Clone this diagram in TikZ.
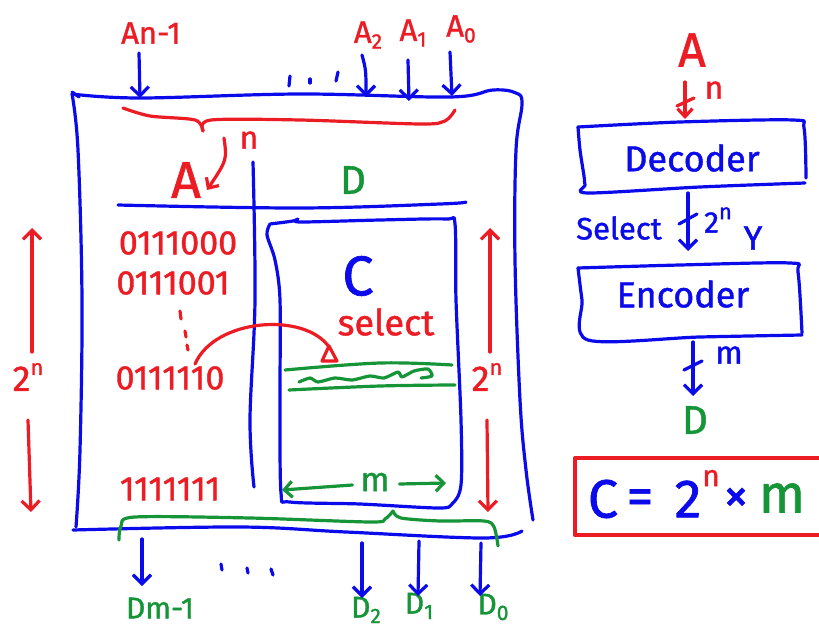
\documentclass[tikz,border=0pt]{standalone}
\usepackage{fontspec}
\setmainfont{Fira Sans}[FakeBold=1.2]
\usetikzlibrary{arrows.meta,decorations.pathmorphing}
\definecolor{penblue}{RGB}{10,10,235}
\definecolor{penred}{RGB}{236,28,36}
\definecolor{pengreen}{RGB}{22,148,56}
\newcommand\lowix[1]{\raisebox{-0.35ex}{\fontsize{21}{21}\selectfont #1}}
\newcommand\upix[1]{\raisebox{0.85ex}{\fontsize{22}{22}\selectfont #1}}
\begin{document}
\begin{tikzpicture}[x=1pt,y=-1pt,line cap=round,line join=round,
  pen/.style={line width=3.2pt},
  bpen/.style={pen,draw=penblue},
  rpen/.style={pen,draw=penred},
  gpen/.style={pen,draw=pengreen},
  barb/.style={-{Straight Barb[length=9pt,width=18pt]}},
  txt/.style={inner sep=0pt,outer sep=0pt},
  fs/.style={font=\fontsize{#1}{#1}\selectfont}]
\useasboundingbox (0,0) rectangle (819,631);

% ---------- labels ----------
\node[txt,fs=31,text=penred] (lAn) at (151,33) {An-1};
\node[txt,fs=31,text=penred] (lA2) at (368,35) {A\lowix{2}};
\node[txt,fs=31,text=penred] (lA1) at (413,33) {A\lowix{1}};
\node[txt,fs=31,text=penred] (lA0) at (461,29) {A\lowix{0}};
\node[txt,fs=32,text=penred] (ln) at (249,140) {n};
\node[txt,fs=52,text=penred] (lA) at (186,180) {A};
\node[txt,fs=40,text=pengreen] (lD) at (353,180) {D};
\node[txt,fs=34,text=penred] (b0) at (178,243) {0111000};
\node[txt,fs=34,text=penred] (b1) at (173,283) {0111001};
\node[txt,fs=34,text=penred] (b2) at (170,378) {0111110};
\node[txt,fs=34,text=penred] (b3) at (170,489) {1111111};
\node[txt,fs=56,text=penblue] (lC) at (358,276) {C};
\node[txt,fs=36,text=penred] (lsel) at (386,322) {select};
\node[txt,fs=36,text=penred] (l2nL) at (28,377) {2\upix{n}};
\node[txt,fs=36,text=penred] (l2nR) at (487,377) {2\upix{n}};
\node[txt,fs=34,text=pengreen] (lm) at (375,482) {m};
\node[txt,fs=30,text=pengreen] (lDm) at (160,608) {Dm-1};
\node[txt,fs=30,text=pengreen] (lD2) at (366,610) {D\lowix{2}};
\node[txt,fs=30,text=pengreen] (lD1) at (419,606) {D\lowix{1}};
\node[txt,fs=30,text=pengreen] (lD0) at (493,607) {D\lowix{0}};

% ---------- outer box ----------
\draw[bpen] (72,92) -- (79,97);
\draw[bpen] plot[smooth,tension=0.6] coordinates {(72,94) (140,98) (300,94) (450,97) (493,90) (516,93) (522,104) (516,150) (515,260) (520,400) (526,470) (533,520)};
\draw[bpen] plot[smooth,tension=0.6] coordinates {(72,94) (78,150) (82,300) (80,450) (76,527)};
\draw[bpen] plot[smooth,tension=0.6] coordinates {(73,530) (240,527) (346,532) (484,538) (522,531)};

% top inputs
\coordinate (sAn) at (139,53); \coordinate (tAn) at (140,98);
\coordinate (sA2) at (362,55); \coordinate (tA2) at (366,97);
\coordinate (sA1) at (408,60); \coordinate (tA1) at (409,101);
\coordinate (sA0) at (450,52); \coordinate (tA0) at (452,96);
\draw[bpen,barb] (sAn) -- (tAn);
\draw[bpen,barb] (sA2) .. controls (366,70) .. (tA2);
\draw[bpen,barb] (sA1) -- (tA1);
\draw[bpen,barb] (sA0) -- (tA0);
\draw[bpen] (290,76) -- (289,86);
\draw[bpen] (310,79) -- (310,83);
\draw[bpen] (338,72) -- (336,81);

% red brace and n arrow
\draw[rpen] plot[smooth,tension=0.5] coordinates {(123,108) (150,116) (195,120) (203,131)};
\draw[rpen] plot[smooth,tension=0.5] coordinates {(203,131) (211,120) (300,120) (420,124) (445,121) (455,110)};
\coordinate (nS) at (224,138); \coordinate (nT) at (207,190);
\draw[rpen,-{Straight Barb[length=8pt,width=15pt]}] (nS) .. controls (227,160) .. (nT);

% inner lines
\draw[bpen] plot[smooth,tension=0.6] coordinates {(253,162) (255,300) (250,420) (254,487)};
\draw[bpen] plot[smooth,tension=0.6] coordinates {(118,205) (300,208) (440,204) (466,202)};

% inner C box
\draw[bpen] plot[smooth,tension=0.5] coordinates {(270,224) (293,221) (298,219) (300,222) (380,220) (446,219) (455,224) (456,300) (461,420) (461,485) (452,504) (438,508) (360,504) (290,502) (281,493) (280,400) (280,300) (275,260) (267,235) (270,224)};

% row line (green)
\draw[gpen] plot[smooth,tension=0.6] coordinates {(285,370) (380,363) (452,365)};
\draw[gpen] plot[smooth,tension=0.6] coordinates {(289,390) (380,386) (455,385)};
\draw[gpen] plot[smooth,tension=0.4] coordinates {(299,382) (310,378) (318,382) (335,378) (352,380) (370,376) (384,378) (398,372) (402,377) (414,371) (428,369) (432,376) (421,378)};

% select arrow
\coordinate (selS) at (195,364); \coordinate (selT) at (329,347);
\draw[rpen] (selS) .. controls (215,318) and (305,312) .. (selT);
\draw[rpen] (329,346) -- (322,361) -- (337,361) -- cycle;

% binary dots
\draw[rpen] (180,311) -- (181,319);
\draw[rpen] (185,331) -- (186,337);
\draw[rpen] (187,345) -- (188,350);

% 2^n arrows
\coordinate (lu1) at (32,352); \coordinate (lu2) at (32,228);
\coordinate (ld1) at (28,420); \coordinate (ld2) at (31,512);
\coordinate (ru1) at (490,352); \coordinate (ru2) at (490,228);
\coordinate (rd1) at (487,420); \coordinate (rd2) at (488,512);
\draw[rpen,barb] (lu1) -- (lu2);
\draw[rpen,barb] (ld1) -- (ld2);
\draw[rpen,barb] (ru1) -- (ru2);
\draw[rpen,barb] (rd1) -- (rd2);

% m width arrows
\coordinate (mL) at (282,490); \coordinate (mR) at (446,483);
\draw[gpen,-{Straight Barb[length=8pt,width=16pt]}] (lm.west) ++(-8,3) -- (mL);
\draw[gpen,-{Straight Barb[length=8pt,width=16pt]}] (lm.east) ++(10,2) -- (mR);

% green brace bottom
\draw[gpen] plot[smooth,tension=0.5] coordinates {(119,540) (121,526) (135,517) (250,518) (370,522) (385,519) (393,511)};
\draw[gpen] plot[smooth,tension=0.5] coordinates {(393,511) (401,518) (440,521) (484,521) (494,527) (498,546)};

% bottom outputs
\coordinate (oDm) at (142,539); \coordinate (eDm) at (142,586);
\coordinate (oD2) at (362,543); \coordinate (eD2) at (362,598);
\coordinate (oD1) at (419,541); \coordinate (eD1) at (418,596);
\coordinate (oD0) at (481,543); \coordinate (eD0) at (480,596);
\draw[bpen,barb] (oDm) -- (eDm);
\draw[bpen,barb] (oD2) -- (eD2);
\draw[bpen,barb] (oD1) -- (eD1);
\draw[bpen,barb] (oD0) -- (eD0);
\draw[bpen] (221,564) -- (222,570);
\draw[bpen] (247,568) -- (248,573);
\draw[bpen] (271,569) -- (273,575);

% ---------- right-hand block diagram ----------
\node[txt,fs=48,text=penred] (rA) at (692,50) {A};
\node[txt,fs=32,text=penred] (rn) at (714,90) {n};
\node[txt,fs=36,text=penblue] (dec) at (692,158) {Decoder};
\node[txt,fs=31,text=penblue] (rsel) at (619,228) {Select};
\node[txt,fs=30,text=penblue] (r2n) at (718,220) {2\upix{n}};
\node[txt,fs=34,text=penblue] (rY) at (753,238) {Y};
\node[txt,fs=36,text=penblue] (enc) at (683,294) {Encoder};
\node[txt,fs=32,text=penblue] (rm) at (729,355) {m};
\node[txt,fs=40,text=pengreen] (rD) at (695,420) {D};

\draw[bpen] plot[smooth,tension=0.5] coordinates {(578,127) (680,122) (793,120) (804,128) (806,178)};
\draw[bpen] plot[smooth,tension=0.5] coordinates {(805,183) (700,187) (588,193) (585,185) (584,176) (580,150) (578,127)};
\draw[bpen] plot[smooth,tension=0.5] coordinates {(578,268) (680,265) (790,263) (798,272) (802,333)};
\draw[bpen] plot[smooth,tension=0.5] coordinates {(802,335) (700,337) (588,340) (582,300) (578,268)};

\coordinate (aS) at (685,82); \coordinate (aT) at (685,119);
\coordinate (dS) at (688,193); \coordinate (dT) at (688,251);
\coordinate (eS) at (693,342); \coordinate (eT) at (693,396);
\draw[rpen,-{Straight Barb[length=8pt,width=15pt]}] (aS) -- (aT);
\draw[rpen] (677,106) -- (694,98);
\draw[bpen,barb] (dS) -- (dT);
\draw[bpen] (679,224) -- (697,214);
\draw[bpen,barb] (eS) -- (eT);
\draw[bpen] (684,370) -- (702,361);

% formula box
\draw[line width=3.4pt,draw=penred] (575,458) rectangle (830,535);
\node[txt,fs=54,text=penblue] (fC) at (603,499) {C};
\node[txt,fs=54,text=penblue] (fEq) at (640,502) {=};
\node[txt,fs=54,text=penblue] (f2) at (688,499) {2};
\node[txt,fs=30,text=penred] (fn) at (711,478) {n};
\node[txt,fs=50,text=penblue] (fx) at (736,500) {×};
\node[txt,fs=54,text=pengreen] (fm) at (782,498) {m};
\end{tikzpicture}
\end{document}
